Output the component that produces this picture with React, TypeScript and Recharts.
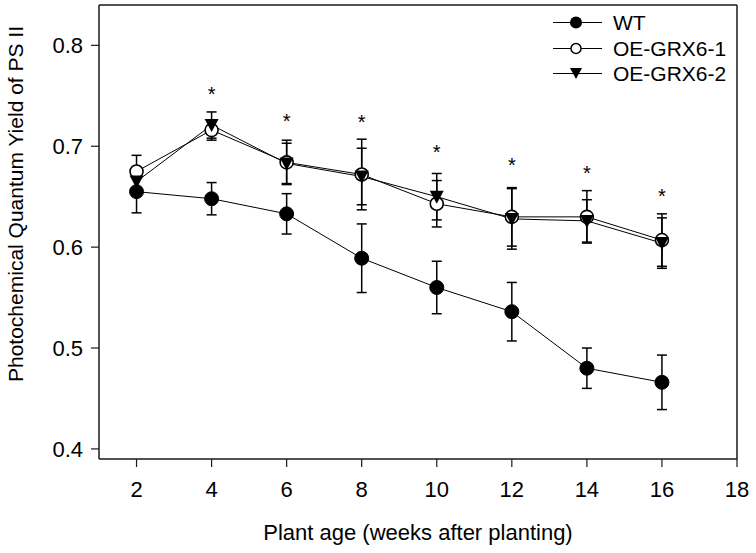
import React from 'react';
import { ComposedChart, Line, Scatter, XAxis, YAxis, ErrorBar, ReferenceLine, Label } from 'recharts';

const weeks = [2, 4, 6, 8, 10, 12, 14, 16];
const wt = [0.655, 0.648, 0.633, 0.589, 0.560, 0.536, 0.480, 0.466];
const wtErr = [0.021, 0.016, 0.020, 0.034, 0.026, 0.029, 0.020, 0.027];
const oe1 = [0.675, 0.716, 0.684, 0.672, 0.643, 0.630, 0.630, 0.607];
const oe1Err = [0.016, 0.010, 0.022, 0.035, 0.023, 0.029, 0.026, 0.026];
const oe2 = [0.665, 0.721, 0.683, 0.670, 0.650, 0.628, 0.626, 0.604];
const oe2Err = [0.012, 0.013, 0.020, 0.028, 0.023, 0.030, 0.021, 0.025];

// asterisks marking significant differences
const sigWeeks = [4, 6, 8, 10, 12, 14, 16];
const sigLevels = [0.755, 0.728, 0.727, 0.697, 0.684, 0.676, 0.654];

const xTicks = [2, 4, 6, 8, 10, 12, 14, 16, 18];
const yTicks = [0.4, 0.5, 0.6, 0.7, 0.8];

const data = weeks.map((w, i) => ({
  week: w,
  wt: wt[i],
  wtErr: wtErr[i],
  oe1: oe1[i],
  oe1Err: oe1Err[i],
  oe2: oe2[i],
  oe2Err: oe2Err[i],
}));
const stars = sigWeeks.map((w, i) => ({ week: w, star: sigLevels[i] }));

const FONT = '"Liberation Sans", Arial, sans-serif';
const INK = '#1a1a1a';

const FilledDot = (p: any) => <circle key={p.index} cx={p.cx} cy={p.cy} r={7} fill="#000" stroke="#000" />;
const OpenDot = (p: any) => (
  <circle key={p.index} cx={p.cx} cy={p.cy} r={6.5} fill="#fff" stroke="#000" strokeWidth={1.6} />
);
const TriDot = (p: any) => (
  <path key={p.index} d={`M${p.cx - 7},${p.cy - 6}L${p.cx + 7},${p.cy - 6}L${p.cx},${p.cy + 7}Z`} fill="#000" />
);
const StarShape = (p: any) => (
  <text x={p.cx} y={p.cy + 10} textAnchor="middle" fontSize={20} fontFamily={FONT} fill="#000">
    *
  </text>
);

const legendItems = [
  { name: 'WT', kind: 'filled' },
  { name: 'OE-GRX6-1', kind: 'open' },
  { name: 'OE-GRX6-2', kind: 'tri' },
];

const LegendBox = () => (
  <div style={{ position: 'absolute', top: 10, left: 553, fontFamily: FONT, fontSize: 21, color: '#000' }}>
    {legendItems.map((it) => (
      <div key={it.name} style={{ display: 'flex', alignItems: 'center', height: 25.5 }}>
        <svg width={50} height={25}>
          <line x1={0} y1={12.5} x2={49} y2={12.5} stroke="#000" strokeWidth={1} />
          {it.kind === 'filled' && <circle cx={23} cy={12.5} r={6} fill="#000" />}
          {it.kind === 'open' && <circle cx={23} cy={12.5} r={5} fill="#fff" stroke="#000" strokeWidth={1.5} />}
          {it.kind === 'tri' && <path d="M17,7L29,7L23,18Z" fill="#000" />}
        </svg>
        <span style={{ marginLeft: 10, lineHeight: '25px', whiteSpace: 'nowrap' }}>{it.name}</span>
      </div>
    ))}
  </div>
);

const YTitle = (props: any) => {
  const vb = props.viewBox;
  return (
    <text
      transform={`translate(23, ${vb.y + vb.height / 2 - 28}) rotate(-90)`}
      textAnchor="middle"
      fontSize={21}
      fontFamily={FONT}
      fill="#000"
    >
      Photochemical Quantum Yield of PS II
    </text>
  );
};

export default function App() {
  const tick = { fontSize: 22, fill: '#000', fontFamily: FONT };
  return (
    <div style={{ position: 'absolute', left: 0, top: 0, width: 756, height: 553, fontFamily: FONT, background: '#fff' }}>
      <ComposedChart width={756} height={553} data={data} margin={{ top: 5, right: 19, left: 0, bottom: 0 }}>
        <XAxis
          dataKey="week"
          type="number"
          domain={[1, 18]}
          ticks={xTicks}
          height={94}
          tick={tick}
          tickSize={8}
          tickMargin={14}
          axisLine={{ stroke: INK, strokeWidth: 1.5 }}
          tickLine={{ stroke: INK, strokeWidth: 1.2 }}
        >
          <Label value="Plant age (weeks after planting)" position="insideBottom" offset={13} fontSize={22} fill="#000" fontFamily={FONT} />
        </XAxis>
        <YAxis
          type="number"
          domain={[0.39, 0.84]}
          ticks={yTicks}
          allowDataOverflow
          width={99}
          tick={tick}
          tickSize={8}
          tickMargin={8}
          tickFormatter={(v: number) => v.toFixed(1)}
          axisLine={{ stroke: INK, strokeWidth: 1.5 }}
          tickLine={{ stroke: INK, strokeWidth: 1.2 }}
        >
          <Label content={YTitle} />
        </YAxis>
        <ReferenceLine y={0.84} stroke={INK} strokeWidth={1.5} />
        <ReferenceLine x={18} stroke={INK} strokeWidth={1.5} />
        <Line dataKey="wt" name="WT" stroke="#000" strokeWidth={1} dot={FilledDot} activeDot={false} isAnimationActive={false}>
          <ErrorBar dataKey="wtErr" width={5} stroke="#000" strokeWidth={1.5} direction="y" />
        </Line>
        <Line dataKey="oe1" name="OE-GRX6-1" stroke="#000" strokeWidth={1} dot={OpenDot} activeDot={false} isAnimationActive={false}>
          <ErrorBar dataKey="oe1Err" width={5} stroke="#000" strokeWidth={1.5} direction="y" />
        </Line>
        <Line dataKey="oe2" name="OE-GRX6-2" stroke="#000" strokeWidth={1} dot={TriDot} activeDot={false} isAnimationActive={false}>
          <ErrorBar dataKey="oe2Err" width={5} stroke="#000" strokeWidth={1.5} direction="y" />
        </Line>
        <Scatter data={stars} dataKey="star" shape={StarShape} isAnimationActive={false} legendType="none" />
      </ComposedChart>
      <LegendBox />
    </div>
  );
}
